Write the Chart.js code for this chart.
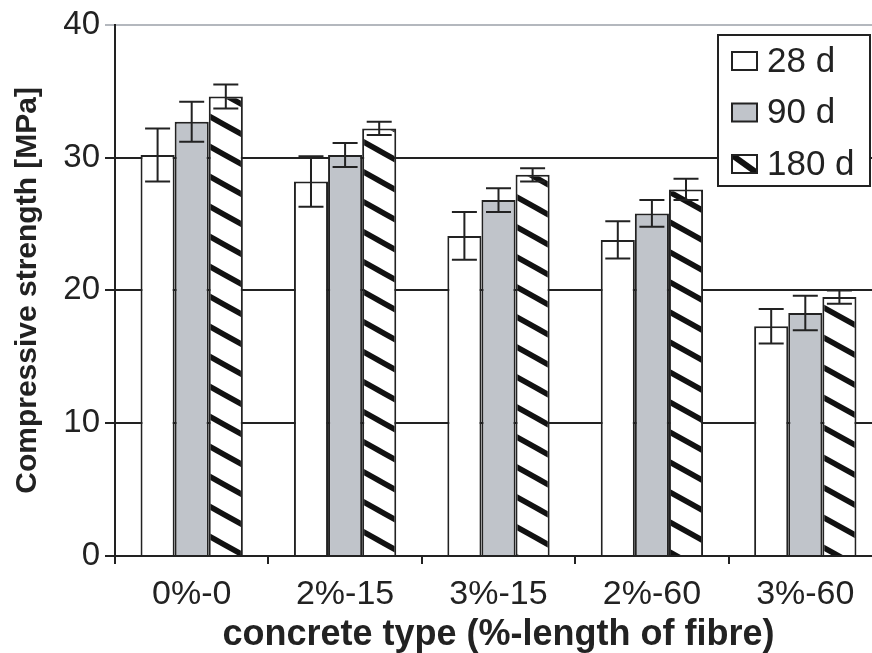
<!DOCTYPE html>
<html>
<head>
<meta charset="utf-8">
<script src="https://cdn.jsdelivr.net/npm/chart.js@4/dist/chart.umd.min.js"></script>
<style>
  html, body { margin: 0; padding: 0; background: #fff; overflow: hidden; }
  #wrap { width: 890px; height: 653px; }
</style>
</head>
<body>
<div id="wrap"><canvas id="chart" width="890" height="653"></canvas></div>
<script>
const categories = ['0%-0', '2%-15', '3%-15', '2%-60', '3%-60']
const yTicks = [0, 10, 20, 30, 40]

const strength28 = [30.2, 28.2, 24.1, 23.8, 17.3]
const strength90 = [32.7, 30.2, 26.8, 25.8, 18.3]
const strength180 = [34.6, 32.2, 28.7, 27.6, 19.5]

const err28 = [2.0, 1.9, 1.8, 1.4, 1.3]
const err90 = [1.5, 0.9, 0.9, 1.0, 1.3]
const err180 = [0.9, 0.5, 0.5, 0.8, 0.5]

const INK = '#222'
const FONT = "'Liberation Sans', Arial, sans-serif"

// diagonal hatch like the printed figure
function makeHatch() {
  const w = 54, h = 30
  const c = document.createElement('canvas')
  c.width = w
  c.height = h
  const g = c.getContext('2d')
  g.fillStyle = '#fff'
  g.fillRect(0, 0, w, h)
  g.strokeStyle = '#111'
  g.lineWidth = 5.5
  for (let k = -1; k <= 1; k++) {
    g.beginPath()
    g.moveTo(-w, -h + k * h)
    g.lineTo(2 * w, 2 * h + k * h)
    g.stroke()
  }
  return g.createPattern(c, 'repeat')
}
const hatch = makeHatch()

const errorBars = {
  id: 'errorBars',
  afterDatasetsDraw(chart) {
    const ctx = chart.ctx
    const y = chart.scales.y
    ctx.save()
    ctx.strokeStyle = INK
    ctx.lineWidth = 2
    chart.data.datasets.forEach((ds, i) => {
      chart.getDatasetMeta(i).data.forEach((bar, j) => {
        const v = ds.data[j], e = ds.errors[j]
        const top = y.getPixelForValue(v + e)
        const bot = y.getPixelForValue(v - e)
        ctx.beginPath()
        ctx.moveTo(bar.x, top); ctx.lineTo(bar.x, bot)
        ctx.moveTo(bar.x - 12.5, top); ctx.lineTo(bar.x + 12.5, top)
        ctx.moveTo(bar.x - 12.5, bot); ctx.lineTo(bar.x + 12.5, bot)
        ctx.stroke()
      })
    })
    ctx.restore()
  }
}

const boxLegend = {
  id: 'boxLegend',
  afterDraw(chart) {
    const ctx = chart.ctx
    const bx = 718, by = 35, bw = 152, bh = 151
    ctx.save()
    ctx.fillStyle = '#fff'
    ctx.fillRect(bx, by, bw, bh)
    ctx.strokeStyle = INK
    ctx.lineWidth = 2
    ctx.strokeRect(bx, by, bw, bh)
    ctx.font = '35px ' + FONT
    ctx.textBaseline = 'middle'
    chart.data.datasets.forEach((ds, i) => {
      const cy = 61 + i * 51.5
      const sx = 732, sy = cy - 9, sw = 25, sh = 18
      ctx.fillStyle = ds.legendFill
      ctx.fillRect(sx, sy, sw, sh)
      if (ds.backgroundColor === hatch) {
        ctx.save()
        ctx.beginPath()
        ctx.rect(sx, sy, sw, sh)
        ctx.clip()
        ctx.strokeStyle = '#111'
        ctx.lineWidth = 6
        ctx.beginPath()
        ctx.moveTo(sx, sy)
        ctx.lineTo(sx + sw, sy + sh)
        ctx.stroke()
        ctx.restore()
      }
      ctx.strokeStyle = INK
      ctx.lineWidth = 2
      ctx.strokeRect(sx, sy, sw, sh)
      ctx.fillStyle = INK
      ctx.fillText(ds.label, 767, cy + 1)
    })
    ctx.restore()
  }
}

const barStyle = {
  borderColor: INK,
  borderWidth: 2,
  borderSkipped: 'start',
  barPercentage: 1,
  categoryPercentage: 0.667,
}

new Chart(document.getElementById('chart'), {
  type: 'bar',
  data: {
    labels: categories,
    datasets: [
      { label: '28 d', data: strength28, errors: err28, backgroundColor: '#fff', legendFill: '#fff', ...barStyle },
      { label: '90 d', data: strength90, errors: err90, backgroundColor: '#c0c4ca', legendFill: '#c0c4ca', ...barStyle },
      { label: '180 d', data: strength180, errors: err180, backgroundColor: hatch, legendFill: '#fff', ...barStyle },
    ],
  },
  options: {
    responsive: false,
    animation: false,
    layout: { padding: { left: 0, top: 24, right: 8, bottom: 0 } },
    plugins: {
      legend: { display: false },
      tooltip: { enabled: false },
    },
    scales: {
      x: {
        grid: {
          display: true,
          drawOnChartArea: false,
          drawTicks: true,
          tickLength: 8,
          offset: true,
          color: INK,
          lineWidth: 2,
        },
        border: { display: false },
        ticks: { color: INK, font: { family: FONT, size: 34 }, padding: 10, maxRotation: 0 },
        title: {
          display: true,
          text: 'concrete type (%-length of fibre)',
          color: INK,
          font: { family: FONT, size: 36, weight: 'bold', lineHeight: 1.0 },
          padding: { top: 0, bottom: 0 },
        },
        afterFit(scale) { scale.height = 97 },
      },
      y: {
        min: 0,
        max: 40,
        afterBuildTicks(scale) { scale.ticks = yTicks.map((v) => ({ value: v })) },
        grid: {
          color: (c) => (c.tick && c.tick.value === 40 ? '#b4b8be' : INK),
          lineWidth: 2,
          tickLength: 10,
        },
        border: { display: true, color: INK, width: 2 },
        ticks: { color: INK, font: { family: FONT, size: 33 }, padding: 5 },
        title: {
          display: true,
          text: 'Compressive strength [MPa]',
          color: INK,
          font: { family: FONT, size: 30, weight: 'bold' },
          padding: { top: 10, bottom: 0 },
        },
        afterFit(scale) { scale.width = 115 },
      },
    },
  },
  plugins: [errorBars, boxLegend],
})
</script>
</body>
</html>
